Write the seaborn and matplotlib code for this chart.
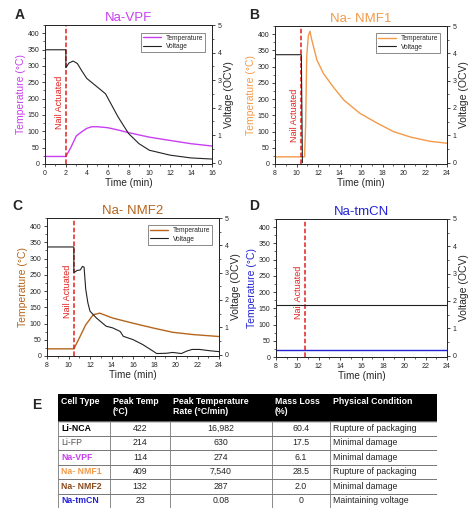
import numpy as np
import pandas as pd
import seaborn as sns
import matplotlib.pyplot as plt
from matplotlib.lines import Line2D
from matplotlib.patches import Rectangle
from matplotlib.ticker import MultipleLocator

# panel A - Na-VPF
a_t_time = [0, 2.0, 2.5, 3.0, 3.5, 4.0, 4.5, 5.0, 6.0, 7.0, 8.0, 10.0, 12.0, 14.0, 16.0]
a_t_temp = [23, 23, 52, 86, 98, 109, 114, 114, 111, 104, 96, 82, 72, 62, 55]
a_v_time = [0, 2.0, 2.0, 2.3, 2.7, 3.1, 3.5, 4.0, 5.0, 5.8, 6.3, 7.0, 8.0, 9.0, 10.0, 12.0, 14.0, 16.0]
a_v_volt = [4.1, 4.1, 3.45, 3.62, 3.69, 3.6, 3.35, 3.06, 2.75, 2.5, 2.15, 1.66, 1.06, 0.69, 0.45, 0.27, 0.17, 0.13]

# panel B - Na- NMF1
b_t_time = [8, 10.75, 10.85, 10.95, 11.1, 11.25, 11.4, 11.9, 12.5, 13.4, 14.4, 15.9, 17.5, 19.0, 20.6, 22.4, 24.0]
b_t_temp = [22, 22, 120, 330, 395, 409, 385, 320, 279, 238, 197, 156, 126, 100, 83, 70, 64]
b_v_time = [8, 10.45, 10.55]
b_v_volt = [3.95, 3.95, 0.0]

# panel C - Na- NMF2
c_t_time = [8, 10.5, 11.0, 11.6, 12.3, 12.9, 14.1, 16.0, 17.9, 19.7, 21.6, 24.0]
c_t_temp = [22, 22, 55, 96, 127, 132, 117, 101, 86, 73, 66, 60]
c_v_time = [8, 10.5, 10.5, 10.8, 11.1, 11.3, 11.45, 11.6, 11.8, 12.0, 12.6, 13.5, 14.1, 14.8, 15.1, 16.0,
            16.9, 17.9, 18.2, 19.1, 19.7, 20.5, 21.0, 21.5, 22.2, 23.2, 24.0]
c_v_volt = [3.94, 3.94, 3.0, 3.08, 3.1, 3.23, 3.2, 2.4, 1.9, 1.59, 1.34, 1.04, 0.98, 0.85, 0.67, 0.55,
            0.37, 0.12, 0.04, 0.05, 0.08, 0.04, 0.13, 0.19, 0.19, 0.14, 0.11]

# panel D - Na-tmCN
d_t_time = [8, 24]
d_t_temp = [23, 23]
d_v_time = [8, 24]
d_v_volt = [1.87, 1.87]

nail_times = [2.0, 10.45, 10.5, 10.72]
titles = ["Na-VPF", "Na- NMF1", "Na- NMF2", "Na-tmCN"]
colors = ["#c93ef0", "#f39a4a", "#b5651d", "#2323d6"]

# table E
cell_types = ["Li-NCA", "Li-FP", "Na-VPF", "Na- NMF1", "Na- NMF2", "Na-tmCN"]
cell_colors = ["black", "#555555", "#c93ef0", "#f39a4a", "#8b4a1c", "#2323d6"]
peak_temp = ["422", "214", "114", "409", "132", "23"]
peak_rate = ["16,982", "630", "274", "7,540", "287", "0.08"]
mass_loss = ["60.4", "17.5", "6.1", "28.5", "2.0", "0"]
condition = ["Rupture of packaging", "Minimal damage", "Minimal damage",
             "Rupture of packaging", "Minimal damage", "Maintaining voltage"]
headers = ["Cell Type", "Peak Temp\n(°C)", "Peak Temperature\nRate (°C/min)", "Mass Loss\n(%)", "Physical Condition"]

W, H = 474, 515


def px_axes(fig, left, top, right, bottom):
    return fig.add_axes([left / W, 1 - bottom / H, (right - left) / W, (bottom - top) / H])


def panel(fig, box, t_time, t_temp, v_time, v_volt, xlim, xstep, nail, title, color, legend, text_y):
    ax = px_axes(fig, *box)
    ax2 = ax.twinx()
    sns.lineplot(x=t_time, y=t_temp, ax=ax, color=color, lw=1.0, zorder=3,
                 estimator=None, sort=False)
    sns.lineplot(x=v_time, y=v_volt, ax=ax2, color="#222222", lw=0.8,
                 estimator=None, sort=False)
    ax.axvline(nail, color="#e0201c", ls=(0, (3, 1.5)), lw=1.1, zorder=4)
    ax.text(nail - 0.6, text_y, "Nail Actuated", rotation=90, color="#e0201c",
            fontsize=6.5, ha="center", va="center")
    ax.set_xlim(*xlim)
    ax.set_ylim(0, 425)
    ax2.set_ylim(-0.05, 5)
    ax.xaxis.set_major_locator(MultipleLocator(xstep))
    ax.xaxis.set_minor_locator(MultipleLocator(xstep / 2))
    ax.yaxis.set_major_locator(MultipleLocator(50))
    ax.yaxis.set_minor_locator(MultipleLocator(25))
    ax2.yaxis.set_major_locator(MultipleLocator(1))
    ax2.yaxis.set_minor_locator(MultipleLocator(0.5))
    for a in (ax, ax2):
        a.tick_params(labelsize=5, length=2.5, width=0.6, pad=1.5)
        a.tick_params(which="minor", length=1.5, width=0.5)
        for s in a.spines.values():
            s.set_linewidth(0.7)
    ax.set_xlabel("Time (min)", fontsize=7.2, labelpad=1)
    ax.set_ylabel("Temperature (°C)", fontsize=7.5, color=color, labelpad=1)
    ax2.set_ylabel("Voltage (OCV)", fontsize=7.5, labelpad=2)
    ax.set_title(title, color=color, fontsize=9.5, pad=3)
    if legend:
        handles = [Line2D([], [], color=color, lw=1.0), Line2D([], [], color="#222222", lw=0.8)]
        leg = ax.legend(handles, ["Temperature", "Voltage"], loc="upper right", fontsize=4.8,
                        frameon=True, fancybox=False, edgecolor="#333333", handlelength=2.6,
                        borderpad=0.3, labelspacing=0.2, bbox_to_anchor=(0.98, 0.97))
        leg.get_frame().set_linewidth(0.5)
    return ax


def draw_table(fig):
    ax = px_axes(fig, 58, 394, 437, 508)
    ax.set_xlim(58, 437)
    ax.set_ylim(508, 394)
    ax.axis("off")
    cols = [58, 110, 170, 272, 330, 437]
    head_bot = 421
    row_h = (508 - head_bot) / 6
    ax.add_patch(Rectangle((58, 394), 379, head_bot - 394, color="black"))
    for i, h in enumerate(headers):
        ax.text(cols[i] + 3, 397, h, color="white", fontsize=6.3, fontweight="bold",
                ha="left", va="top", linespacing=1.15)
    for r in range(6):
        y0 = head_bot + r * row_h
        ax.add_patch(Rectangle((58, y0), 379, row_h, fill=False, edgecolor="#777777", lw=0.6))
        for c in cols[1:-1]:
            ax.plot([c, c], [y0, y0 + row_h], color="#777777", lw=0.6)
        yc = y0 + row_h / 2
        weight = "normal" if cell_types[r] == "Li-FP" else "bold"
        ax.text(cols[0] + 3, yc, cell_types[r], color=cell_colors[r], fontsize=6.3,
                fontweight=weight, ha="left", va="center")
        for i, vals in enumerate([peak_temp, peak_rate, mass_loss]):
            ax.text((cols[i + 1] + cols[i + 2]) / 2, yc, vals[r], fontsize=6.3, ha="center", va="center")
        ax.text(cols[4] + 3, yc, condition[r], fontsize=6.3, ha="left", va="center")


def main():
    sns.set_style("ticks")
    plt.rcParams["font.family"] = ["Liberation Sans", "DejaVu Sans"]
    fig = plt.figure(figsize=(W / 100, H / 100), dpi=100)
    panel(fig, (45, 25, 212, 164), a_t_time, a_t_temp, a_v_time, a_v_volt, (0, 16), 2,
          nail_times[0], titles[0], colors[0], True, 190)
    panel(fig, (275, 26, 447, 164), b_t_time, b_t_temp, b_v_time, b_v_volt, (8, 24), 2,
          nail_times[1], titles[1], colors[1], True, 150)
    panel(fig, (47, 218, 219, 356), c_t_time, c_t_temp, c_v_time, c_v_volt, (8, 24), 2,
          nail_times[2], titles[2], colors[2], True, 200)
    panel(fig, (276, 219, 447, 357), d_t_time, d_t_temp, d_v_time, d_v_volt, (8, 24), 2,
          nail_times[3], titles[3], colors[3], False, 200)
    draw_table(fig)
    for lab, x, y in [("A", 20, 15), ("B", 254, 15), ("C", 17, 206), ("D", 254, 206), ("E", 37, 405)]:
        fig.text(x / W, 1 - y / H, lab, fontsize=10, fontweight="bold", ha="center", va="center")
    fig.savefig("out.png", dpi=100)


if __name__ == "__main__":
    main()
